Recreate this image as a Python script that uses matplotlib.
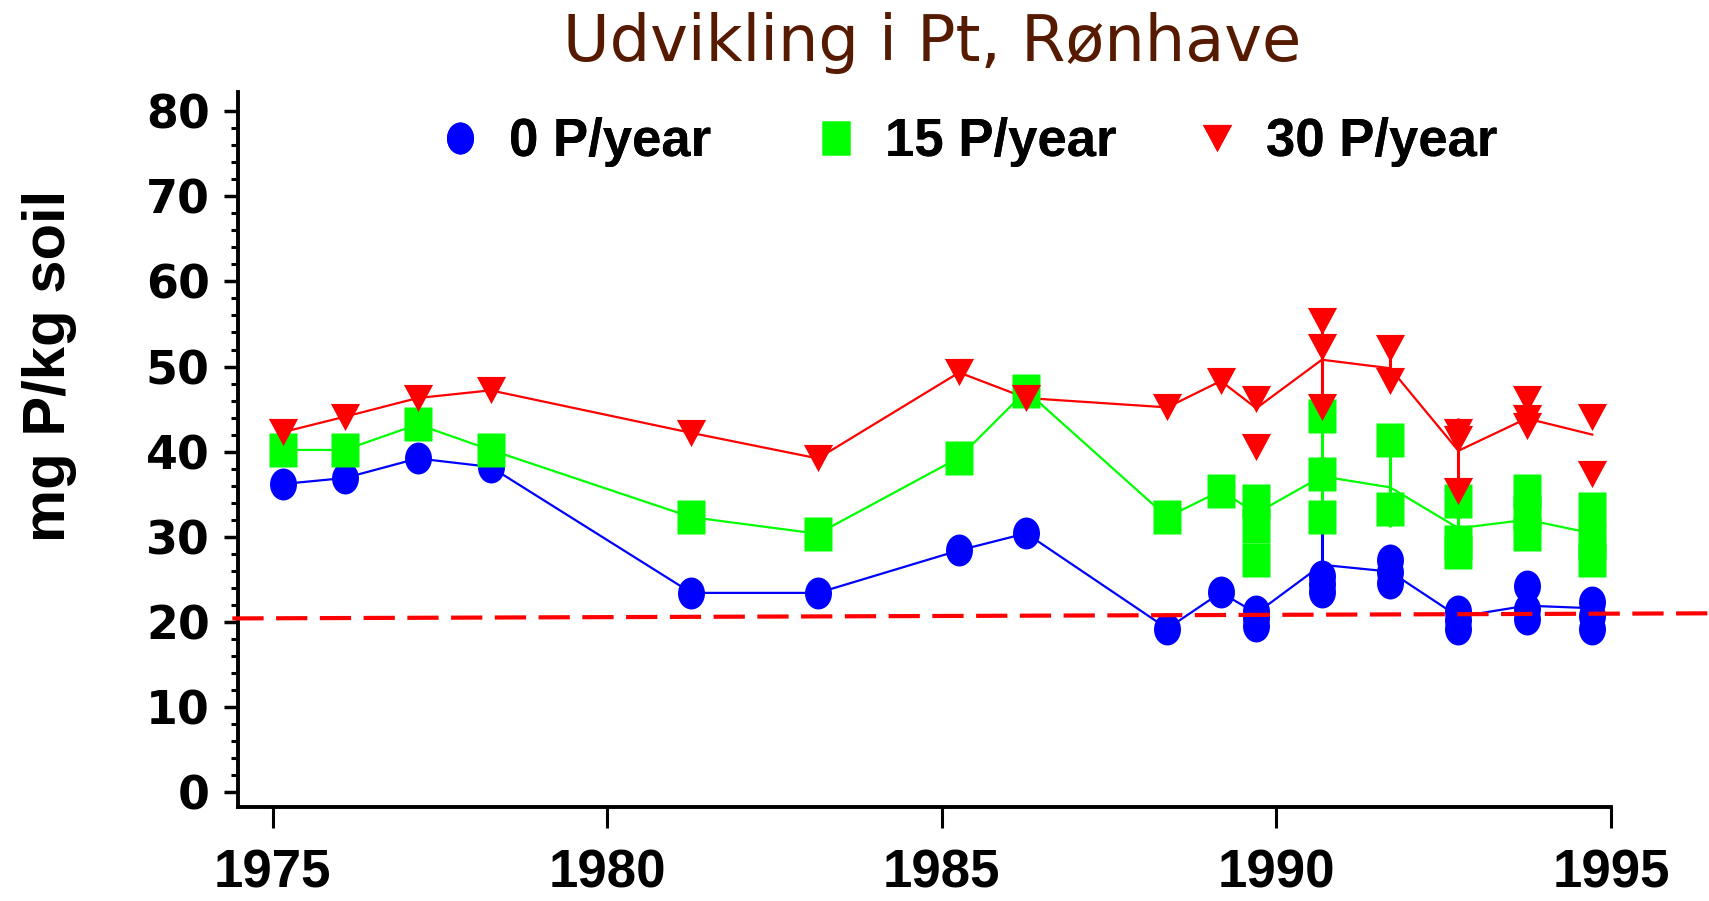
import numpy as np
import matplotlib
matplotlib.use("Agg")
import matplotlib.pyplot as plt
from matplotlib.path import Path

# sampling dates (fraction of year)
years = [1975.16, 1976.08, 1977.17, 1978.26, 1981.26, 1983.15, 1985.26, 1986.26,
         1988.37, 1989.17, 1989.70, 1990.68, 1991.70, 1992.72, 1993.74, 1994.72]

# 0 P/year - replicate values, line values, error bars
p0_points = [[36.2], [36.9], [39.2], [38.2], [23.4], [23.4], [28.4], [30.4],
             [19.2], [23.45], [21.3, 20.4, 19.55], [32.3, 25.4, 24.5, 23.5],
             [27.3, 25.9, 24.6], [21.3, 20.2, 19.15], [24.2, 21.5, 20.3], [22.3, 20.7, 19.2]]
p0_line = [36.2, 36.9, 39.2, 38.2, 23.4, 23.4, 28.4, 30.4,
           19.2, 23.45, 21.0, 26.7, 25.9, 20.6, 21.9, 21.6]
p0_sd = [0, 0, 0, 0, 0, 0, 0, 0, 0, 0, 0, 4.3, 0, 0, 0, 0]

# 15 P/year
p15_points = [[40.2], [40.2], [43.2], [40.2], [32.3], [30.35], [39.3], [47.15],
              [32.3], [35.4], [34.2, 31.3, 27.3], [44.2, 37.4, 32.3],
              [41.4, 33.3], [34.2, 29.4, 28.2], [35.4, 32.8, 30.3], [33.3, 29.4, 27.3]]
p15_line = [40.2, 40.2, 43.2, 40.2, 32.3, 30.35, 39.3, 47.15,
            32.3, 35.4, 32.75, 37.1, 35.8, 31.0, 32.0, 30.4]
p15_sd = [0, 0, 0, 0, 0, 0, 0, 0, 0, 0, 0, 5.8, 4.6, 3.0, 0, 0]

# 30 P/year
p30_points = [[42.3], [44.1], [46.3], [47.2], [42.2], [39.2], [49.3], [46.3],
              [45.2], [48.3], [46.2, 40.5], [55.4, 52.3, 45.25],
              [52.2, 48.3], [42.3, 41.5, 35.4], [46.2, 44.0, 43.0], [44.1, 37.4]]
p30_line = [42.3, 44.1, 46.3, 47.2, 42.2, 39.2, 49.3, 46.3,
            45.2, 48.3, 45.1, 50.8, 49.8, 40.1, 43.9, 42.0]
p30_sd = [0, 0, 0, 0, 0, 0, 0, 0, 0, 0, 0, 5.2, 2.4, 3.8, 0, 0]

labels = ["0 P/year", "15 P/year", "30 P/year"]
colors = ["#0000ff", "#00ff00", "#ff0000"]

# reference line
ref_x = [1974.4, 1996.5]
ref_y = [20.4, 21.0]

# marker shapes (slightly taller than wide like the original)
circ = Path.unit_circle()
ellipse = Path(circ.vertices * [27 / 32, 1.0], circ.codes)
rect = Path([(-0.85, -1), (0.85, -1), (0.85, 1), (-0.85, 1), (-0.85, -1)],
            [Path.MOVETO, Path.LINETO, Path.LINETO, Path.LINETO, Path.CLOSEPOLY])
tri = Path([(-1, 0.93), (1, 0.93), (0, -0.93), (-1, 0.93)],
           [Path.MOVETO, Path.LINETO, Path.LINETO, Path.CLOSEPOLY])
markers = [ellipse, rect, tri]
msizes = [23, 23.8, 21]

W, H = 1709, 901
fig = plt.figure(figsize=(W / 100, H / 100), dpi=100)
ax = fig.add_axes([237.7 / W, 1 - 807 / H, (1611 - 237.7) / W, (807 - 92) / H])

series = [(p0_points, p0_line, p0_sd), (p15_points, p15_line, p15_sd), (p30_points, p30_line, p30_sd)]
handles = []
for i, (pts, line, sd) in enumerate(series):
    ax.plot(years, line, color=colors[i], lw=1.6, zorder=2)
    ax.errorbar(years, line, yerr=sd, fmt="none", ecolor=colors[i], elinewidth=2.2, capsize=0, zorder=2)
for i, (pts, line, sd) in enumerate(series):
    xs = [years[j] for j in range(len(years)) for v in pts[j]]
    ys = [v for j in range(len(years)) for v in pts[j]]
    h, = ax.plot(xs, ys, ls="none", marker=markers[i], ms=msizes[i], mfc=colors[i], mec="none",
                 zorder=3 + i, label=labels[i])
    handles.append(h)

ax.plot(ref_x, ref_y, color="#ff0000", lw=3, dashes=(7.5, 3), clip_on=False, zorder=5)

ax.set_xlim(1974.48, 1995)
ax.set_ylim(-1.76, 82.26)
ax.set_xticks([1975, 1980, 1985, 1990, 1995])
ax.set_yticks(range(0, 81, 10))
ax.set_yticks(range(0, 81, 2), minor=True)
for s in ["top", "right"]:
    ax.spines[s].set_visible(False)
for s in ["left", "bottom"]:
    ax.spines[s].set_linewidth(2.8)
ax.tick_params(axis="x", which="major", length=15, width=2.2, pad=15)
ax.tick_params(axis="y", which="major", length=10, width=2.5, pad=10)
ax.tick_params(axis="y", which="minor", length=5, width=2.2)
for t in ax.get_xticklabels():
    t.set_fontfamily("Liberation Sans")
    t.set_fontweight("bold")
    t.set_fontsize(38)
for t in ax.get_yticklabels():
    t.set_fontfamily("DejaVu Sans")
    t.set_fontweight("bold")
    t.set_fontsize(33)

fig.text(50 / W, 1 - 366 / H, "mg P/kg soil", rotation=90, ha="center", va="center",
         fontsize=43, fontweight="bold", family="Liberation Sans")
fig.text(932 / W, 1 - 61 / H, "Udvikling i Pt, Rønhave", ha="center", va="baseline",
         fontsize=46, color="#551a00", family="DejaVu Sans")

# legend entries placed one by one
fs_px = 38 * 100 / 72
hl = 0.6
centers = [460, 836, 1217]
for i in range(3):
    leg = fig.legend([handles[i]], [labels[i]], loc="center left",
                     bbox_to_anchor=((centers[i] - 0.5 * hl * fs_px) / W, 1 - 142 / H),
                     frameon=False, borderpad=0, borderaxespad=0, handlelength=hl,
                     handletextpad=0.63, numpoints=1,
                     prop={"family": "Liberation Sans", "weight": "bold", "size": 38})
    fig.add_artist(leg)

fig.savefig("out.png", dpi=100)
